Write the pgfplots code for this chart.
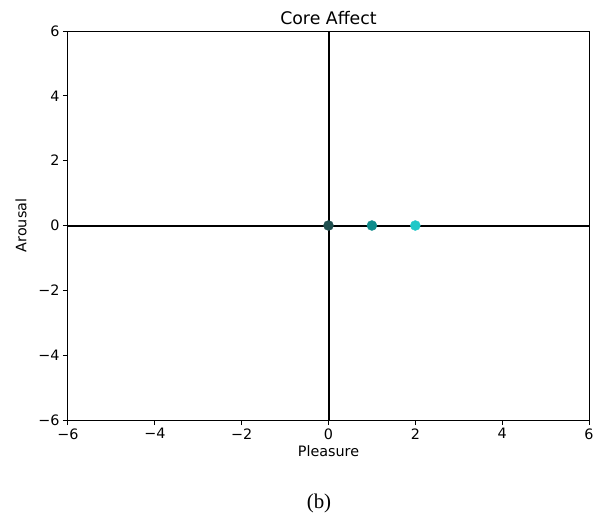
\documentclass[border=0pt]{standalone}
\usepackage{pgfplots}
\pgfplotsset{compat=1.18}
\usepackage{fontspec}
\setmainfont{DejaVu Sans}
\newfontfamily\capfont{Liberation Serif}
\definecolor{c0}{HTML}{1F4F4F}
\definecolor{c1}{HTML}{0F8C8C}
\definecolor{c2}{HTML}{1FC8C8}
\begin{document}
\begin{tikzpicture}[x=1bp,y=1bp]
\useasboundingbox (-68bp,-99bp) rectangle (537bp,420bp);
\begin{axis}[
  at={(0,0)}, anchor=south west,
  scale only axis, width=521bp, height=389bp,
  xmin=-6, xmax=6, ymin=-6, ymax=6,
  xtick={-6,-4,...,6}, ytick={-6,-4,...,6},
  xticklabels={−6,−4,−2,0,2,4,6},
  yticklabels={−6,−4,−2,0,2,4,6},
  tick align=outside, tick pos=left,
  major tick length=5bp,
  tick style={black, line width=1bp},
  axis line style={line width=1bp},
  ticklabel style={font=\fontsize{14.4}{16}\selectfont},
  title={Core Affect},
  title style={font=\fontsize{17.4}{19}\selectfont, yshift=-3bp},
  xlabel={Pleasure}, ylabel={Arousal},
  label style={font=\fontsize{14.4}{16}\selectfont},
  xlabel style={yshift=1bp},
  ylabel style={yshift=5bp},
  clip=false,
]
\addplot[black, line width=2bp, forget plot] coordinates {(-6,0) (6,0)};
\addplot[black, line width=2bp, forget plot] coordinates {(0,-6) (0,6)};
\addplot[only marks, mark=*, mark size=5bp, color=c0, mark options={draw=c0, fill=c0}] coordinates {(0,0)};
\addplot[only marks, mark=*, mark size=5bp, color=c1, mark options={draw=c1, fill=c1}] coordinates {(1,0)};
\addplot[only marks, mark=*, mark size=5bp, color=c2, mark options={draw=c2, fill=c2}] coordinates {(2,0)};
\end{axis}
\node[font=\capfont\fontsize{21}{24}\selectfont] at (251bp,-83bp) {(b)};
\end{tikzpicture}
\end{document}
